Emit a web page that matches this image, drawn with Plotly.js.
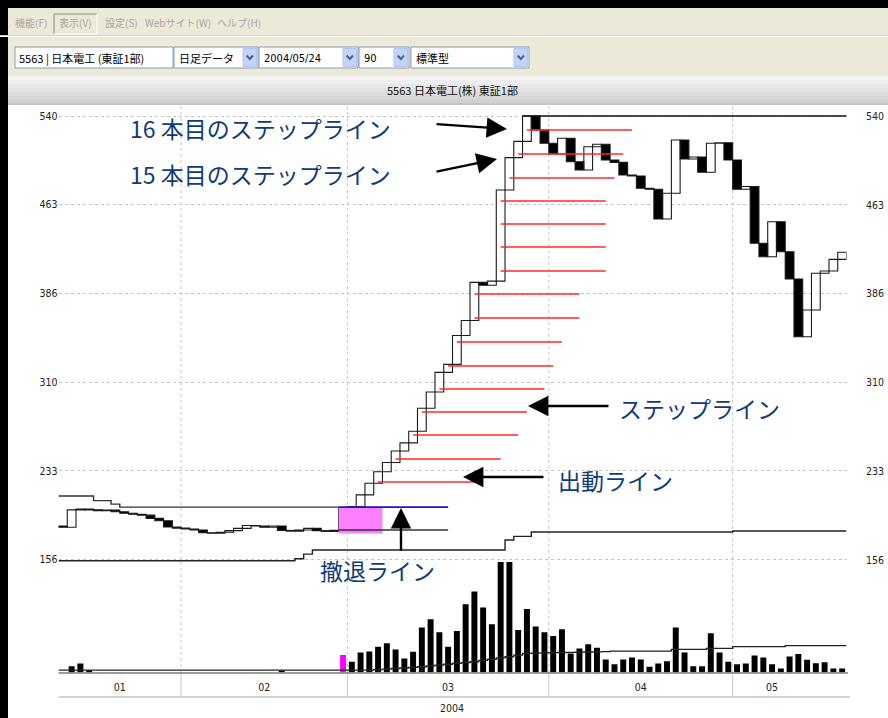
<!DOCTYPE html>
<html><head><meta charset="utf-8">
<script src="https://cdn.plot.ly/plotly-3.0.1.min.js"></script>
<style>html,body{margin:0;padding:0;background:#fff;}#chart{width:888px;height:718px;}</style>
</head><body><div id="chart"></div>
<script>
// ---------------- DATA ----------------
const dayIndex = [0,1,2,3,4,5,6,7,8,9,10,11,12,13,14,15,16,17,18,19,20,21,22,23,24,25,26,27,28,29,30,31,32,33,34,35,36,37,38,39,40,41,42,43,44,45,46,47,48,49,50,51,52,53,54,55,56,57,58,59,60,61,62,63,64,65,66,67,68,69,70,71,72,73,74,75,76,77,78,79,80,81,82,83,84,85,86,87,88,89];
const firstOpen = 185;
const closePrice = [184,199,199.7,199,198.2,198.8,197.4,196,195.2,194.4,
  191.6,189.6,184.2,183.2,182.4,181.6,179.2,178.7,179.6,181,
  183,185.4,185,184,185,181.2,180.6,181.6,183,181,
  180.4,181.4,200.3,201.7,212,222,232,240,250,257,
  267,287,301,318,325,350,363,396,393.5,397,
  476,504,518,540,527.9,516.4,507.1,520.7,500.4,493.2,
  513.4,515.5,501.9,499.9,488.9,488,477.4,476.6,450.8,473.1,
  519.2,502.8,504.5,491.3,516.4,516.8,501.9,476.6,479,429.8,
  418.2,448.5,422.5,398.9,348.9,372,403.8,405.8,415.9,422];
const volume = [0,63,90,23,0,0,0,0,0,0,
  0,0,0,0,0,0,0,0,0,0,
  0,0,0,0,0,20,0,0,0,0,
  0,0,173,107,200,210,257,290,230,140,
  207,447,530,400,257,413,680,807,647,480,
  1100,1100,423,633,457,400,363,430,190,240,
  280,247,130,83,130,150,130,57,90,113,
  447,200,63,63,390,200,107,83,90,170,
  150,83,40,160,183,127,93,103,40,40];
const volumeMA = [23,23,23,23,23,23,23,23,23,23,
  23,23,23,23,23,23,23,23,23,23,
  23,23,23,23,23,23,23,23,23,23,
  23,23,23,23,23,23,28,34,40,45,
  51,57,65,74,82,90,98,107,120,132,
  145,157,173,190,193,195,197,199,201,203,
  204,206,207,213,213,213,213,213,213,213,
  230,230,230,230,240,240,240,257,257,257,
  257,257,257,267,267,267,267,267,267,267];
const monthNames = ['01','02','03','04','05'];
const monthStart = [0,14,33,56,77];
const monthLabelPos = [7,23.5,44.5,66.5,81.5];
const yearLabel = '2004';
const priceTicks = [540,463.2,386.4,309.6,232.8,156];
const priceTickText = ['540','463','386','310','233','156'];
// step lines (level, day it starts)
const stepLevels = [223.1,243.0,263.8,283.7,303.6,323.5,344.3,365.1,385.9,405.8,426.6,446.5,466.4,486.3,507.1,527.9];
const stepStartDay = [36,38,40,41,43,44,45,47,47,50,50,50,50,51,52,53];
const stepLength = 12;
// retreat line / entry box
const retreatLevel = 201.4;
const retreatBoxBottom = 178.5;
const retreatLowLevel = 181.5;
const retreatStartDay = 32;
const retreatEndDay = 44.5;
const retreatBoxEndDay = 37;
// resistance line (left) and peak line
const upperLineX = [0,4,6,7,44.5];
const upperLineY = [211,207,204,201.4,201.4];
const peakLineX = [53,90];
const peakLineY = [540,540];
// long support line
const lowLineX = [0,27,28,29,51,52,54,77,90];
const lowLineY = [155,156.7,160.7,164.2,172.9,176,179.8,180.7,180.7];
// texts
const menuItems = ['機能(F)','表示(V)','設定(S)','Webサイト(W)','ヘルプ(H)'];
const comboTexts = ['5563 | 日本電工 (東証1部)','日足データ','2004/05/24','90','標準型'];
const headerTitle = '5563 日本電工(株) 東証1部';
const callouts = ['16 本目のステップライン','15 本目のステップライン','ステップライン','出動ライン','撤退ライン'];

// ---------------- HELPERS ----------------
const W = 888, H = 718;
const px = x => x / W, py = y => 1 - y / H;
const UI_FONT = '"Noto Sans CJK JP","Noto Sans",sans-serif';
const NUM_FONT = '"Liberation Sans Narrow","DejaVu Sans Condensed","Liberation Sans",sans-serif';

const openPrice = closePrice.map((c, i) => i === 0 ? firstOpen : closePrice[i - 1]);
const xc = dayIndex.map(d => d + 0.5);
const bodyLen = closePrice.map((c, i) => c - openPrice[i]);
const bodyFill = closePrice.map((c, i) => c >= openPrice[i] ? '#ffffff' : '#000000');

// step line segments
const stepX = [], stepY = [];
stepLevels.forEach((L, k) => { stepX.push(stepStartDay[k] + 0.5, stepStartDay[k] + 0.5 + stepLength, null); stepY.push(L, L, null); });

const traces = [];
// candle fills
traces.push({type:'bar', x:xc, base:openPrice, y:bodyLen, width:1, xaxis:'x', yaxis:'y',
  marker:{color:bodyFill, line:{width:0}}, hoverinfo:'skip'});
// pink retreat box
traces.push({type:'scatter', mode:'lines', xaxis:'x', yaxis:'y',
  x:[retreatStartDay, retreatBoxEndDay, retreatBoxEndDay, retreatStartDay, retreatStartDay],
  y:[retreatLevel, retreatLevel, retreatBoxBottom, retreatBoxBottom, retreatLevel],
  fill:'toself', fillcolor:'#ff80ff', line:{width:0}, hoverinfo:'skip'});
// candle outlines
traces.push({type:'bar', x:xc, base:openPrice, y:bodyLen, width:1, xaxis:'x', yaxis:'y',
  marker:{color:'rgba(0,0,0,0)', line:{width:1.1, color:'#1a1a1a'}}, hoverinfo:'skip'});
// lines
traces.push({type:'scatter', mode:'lines', x:lowLineX, y:lowLineY, line:{shape:'hv', color:'#222', width:1.4}, hoverinfo:'skip'});
traces.push({type:'scatter', mode:'lines', x:upperLineX, y:upperLineY, line:{shape:'hv', color:'#333', width:1.4}, hoverinfo:'skip'});
traces.push({type:'scatter', mode:'lines', x:peakLineX, y:peakLineY, line:{color:'#111', width:1.5}, hoverinfo:'skip'});
traces.push({type:'scatter', mode:'lines', x:[retreatStartDay, retreatEndDay], y:[retreatLowLevel, retreatLowLevel], line:{color:'#333', width:1.4}, hoverinfo:'skip'});
traces.push({type:'scatter', mode:'lines', x:stepX, y:stepY, connectgaps:false, line:{color:'#ff2a2a', width:1.5}, hoverinfo:'skip'});
traces.push({type:'scatter', mode:'lines', x:[retreatStartDay, retreatEndDay], y:[retreatLevel, retreatLevel], line:{color:'#0000ff', width:1.3}, hoverinfo:'skip'});
// volume
traces.push({type:'bar', x:xc, y:volume, width:0.68, xaxis:'x2', yaxis:'y2',
  marker:{color:volume.map((v, i) => dayIndex[i] === retreatStartDay ? '#ff00ff' : '#000000')}, hoverinfo:'skip'});
traces.push({type:'scatter', mode:'lines', x:dayIndex.concat([90]), y:volumeMA.concat([volumeMA[volumeMA.length-1]]), xaxis:'x2', yaxis:'y2',
  line:{shape:'hv', color:'#222', width:1.3}, hoverinfo:'skip'});

// ---------------- SHAPES ----------------
const shapes = [];
const rect = (x0,y0,x1,y1,fill,lineColor,lw) => shapes.push({type:'rect', xref:'paper', yref:'paper',
  x0:px(x0), x1:px(x1), y0:py(y1), y1:py(y0), fillcolor:fill, line:{width:lw||0, color:lineColor||'rgba(0,0,0,0)'}, layer:'below'});
const pline = (x0,y0,x1,y1,color,w,dash,layer) => shapes.push({type:'line', xref:'paper', yref:'paper',
  x0:px(x0), x1:px(x1), y0:py(y0), y1:py(y1), line:{color:color, width:w||1, dash:dash||'solid'}, layer:layer||'above'});

// window chrome
rect(0,8,888,36,'#ece9d8');
rect(0,36,888,76,'#ece9d8');
pline(0,36.5,888,36.5,'#ffffff',1);
pline(0,35.5,888,35.5,'#d6d2c2',1);
const grays = ['#f4f4f4','#eeeeee','#e8e8e8','#e2e2e2','#dcdcdc','#d6d6d6','#d0d0d0'];
grays.forEach((g, k) => rect(0, 76 + k*4, 888, 80 + k*4, g));
rect(0,103,888,105,'#c4c4c4');
// pressed menu item border
pline(54,14,54,34,'#8c8a80',1);
pline(54,14,97,14,'#8c8a80',1);
pline(97,14,97,34,'#ffffff',1);
pline(54,34,97,34,'#ffffff',1);
// combo boxes
const combos = [[15,173,false],[174,258,true],[259,358,true],[359,409,true],[411,529,true]];
combos.forEach(c => {
  rect(c[0],47,c[1],68,'#ffffff','#7f9db9',1);
  if (c[2]) {
    rect(c[1]-15,48.5,c[1]-1.5,66.5,'#c3d3fb','#b4c6f0',1);
    const cx = c[1]-8.2, cy = 57.5;
    shapes.push({type:'path', xref:'paper', yref:'paper',
      path:`M ${px(cx-3.2)} ${py(cy-2)} L ${px(cx)} ${py(cy+1.5)} L ${px(cx+3.2)} ${py(cy-2)}`,
      line:{color:'#4d6185', width:2}});
  }
});
// black frame
rect(0,0,888,8,'#000000');
rect(0,0,8,718,'#000000');
// month gridlines (dotted) through both panels and solid separators in label band
monthStart.slice(1).forEach(m => {
  shapes.push({type:'line', xref:'x', yref:'paper', x0:m, x1:m, y0:py(673), y1:py(106), line:{color:'#c8c8c8', width:1, dash:'dot'}, layer:'below'});
  shapes.push({type:'line', xref:'x', yref:'paper', x0:m, x1:m, y0:py(697), y1:py(673), line:{color:'#c8c8c8', width:1}, layer:'below'});
});
pline(58.5,673,848,673,'#7a7a7a',1.5);
pline(58.5,697,850,697,'#c4c4c4',1.5);

// ---------------- ANNOTATIONS ----------------
const ann = [];
const txt = (t,x,y,size,color,anchor,family) => ann.push({text:t, xref:'paper', yref:'paper', x:px(x), y:py(y),
  xanchor:anchor||'left', yanchor:'middle', showarrow:false, font:{family:family||UI_FONT, size:size, color:color}});
const menuX = [13,57,103,143,215];
menuItems.forEach((m,k) => txt(m, menuX[k], 23, 10, '#a8a6a0'));
const comboTextX = [17,177,262,362,414];
comboTexts.forEach((t,k) => txt(t, comboTextX[k], 58, 11, '#000000', 'left', k===2||k===3 ? NUM_FONT : UI_FONT));
txt(headerTitle, 452, 89.5, 11, '#111111', 'center');
// callout labels
const BLUE = '#0f3c78';
const calloutPos = [[128,128.5],[128,173.5],[617,408],[556,480],[318,570]];
callouts.forEach((c,k) => txt(c, calloutPos[k][0], calloutPos[k][1], 23, BLUE));
// arrows  [tipX, tipY, ax, ay]
const arrows = [[507,129,-72,-5],[497,159,-62,13],[528,406,82,0],[463,477,82,0],[401,508,0,44]];
arrows.forEach(a => ann.push({text:'', xref:'paper', yref:'paper', x:px(a[0]), y:py(a[1]), ax:a[2], ay:a[3],
  axref:'pixel', ayref:'pixel', showarrow:true, arrowhead:2, arrowsize:1.7, arrowwidth:2.4, arrowcolor:'#000', standoff:0}));
// right axis labels (kept inside the window edge)
priceTicks.forEach((v,k) => ann.push({text:priceTickText[k], xref:'paper', yref:'y', x:px(886), y:v,
  xanchor:'right', yanchor:'middle', showarrow:false, font:{family:NUM_FONT, size:10.5, color:'#222'}}));
txt(yearLabel, 452, 708, 10.5, '#222', 'center', NUM_FONT);

const layout = {
  width:W, height:H, margin:{l:0,r:0,t:0,b:0}, paper_bgcolor:'#ffffff', plot_bgcolor:'rgba(0,0,0,0)',
  showlegend:false, barmode:'overlay', dragmode:false,
  xaxis:{domain:[px(58.5),px(846.5)], range:[0,90], anchor:'y', showgrid:false, zeroline:false, showticklabels:false, ticks:'', fixedrange:true},
  yaxis:{domain:[py(575),py(104)], range:[142.6,550.4], anchor:'x', tickmode:'array', tickvals:priceTicks, ticktext:priceTickText,
    showgrid:true, gridcolor:'#c4c4c4', griddash:'dot', gridwidth:1, zeroline:false, ticks:'', showline:false,
    tickfont:{family:NUM_FONT, size:10.5, color:'#222'}, fixedrange:true},
  xaxis2:{domain:[px(58.5),px(846.5)], range:[0,90], anchor:'y2', tickmode:'array', tickvals:monthLabelPos, ticktext:monthNames,
    showgrid:false, zeroline:false, showline:false, ticks:'outside', ticklen:5, tickcolor:'rgba(0,0,0,0)',
    tickfont:{family:NUM_FONT, size:10.5, color:'#222'}, fixedrange:true},
  yaxis2:{domain:[py(672.5),py(560)], range:[0,1120], anchor:'x2', showgrid:false, zeroline:false, showticklabels:false, ticks:'', fixedrange:true},
  shapes:shapes, annotations:ann
};
Plotly.newPlot('chart', traces, layout, {displayModeBar:false, staticPlot:true});
</script></body></html>
